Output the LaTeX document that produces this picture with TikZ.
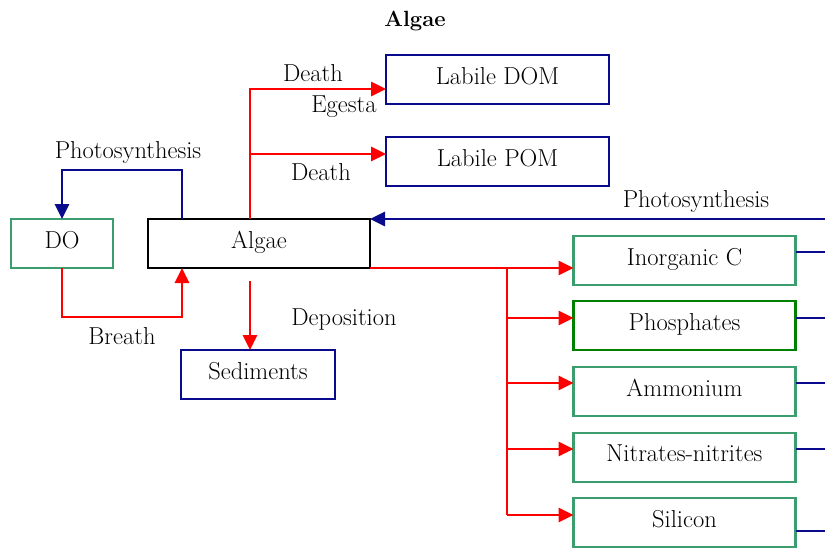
\documentclass[tikz,border=0pt]{standalone}
\usetikzlibrary{arrows.meta,calc}
\definecolor{navyb}{RGB}{10,10,140}
\definecolor{seag}{RGB}{60,158,110}
\definecolor{darkg}{RGB}{0,128,0}
\newcommand{\upt}[1]{\raisebox{8pt}{#1}}
\begin{document}
\begin{tikzpicture}[x=1pt,y=-1pt,
  every node/.style={font=\fontsize{24.5}{28}\selectfont},
  box/.style={draw,line width=2.8pt,minimum height=49pt,inner sep=0pt,outer sep=0pt,anchor=center},
  lbl/.style={inner sep=0pt,anchor=center},
  redl/.style={draw=red,line width=2.8pt},
  bluel/.style={draw=navyb,line width=2.8pt},
  tip/.style={-{Triangle[length=15pt,width=14pt]}}
]
\useasboundingbox (0,0) rectangle (825,551);
% title
\node[lbl,font=\fontsize{22}{26}\selectfont\bfseries] (title) at (415,21) {Algae};
% boxes
\node[box,draw=navyb,minimum width=223pt] (dom) at (497.5,79.5) {\upt{Labile DOM}};
\node[box,draw=navyb,minimum width=223pt] (pom) at (497.5,161.5) {\upt{Labile POM}};
\node[box,draw=seag,minimum width=102pt] (do) at (62,243.5) {\upt{DO}};
\node[box,draw=black,minimum width=222pt] (algae) at (259,243.5) {\upt{Algae}};
\node[box,draw=navyb,minimum width=154pt] (sed) at (258,374.5) {\upt{Sediments}};
\node[box,draw=seag,minimum width=222pt] (inc) at (684.5,260.5) {\upt{Inorganic C}};
\node[box,draw=darkg,minimum width=222pt] (pho) at (684.5,325.5) {\upt{Phosphates}};
\node[box,draw=seag,minimum width=222pt] (amm) at (684.5,391.5) {\upt{Ammonium}};
\node[box,draw=seag,minimum width=222pt] (nit) at (684.5,457.5) {\upt{Nitrates-nitrites}};
\node[box,draw=seag,minimum width=222pt] (sil) at (684.5,522.5) {\upt{Silicon}};
% coordinates
\coordinate (ps) at (182,170);
\coordinate (br) at (62,317);
\coordinate (d1) at (250,89);
\coordinate (d2) at (250,154);
\coordinate (dep) at (250,281);
\coordinate (rv) at (507,268);
\coordinate (rin) at (825,219);
\coordinate (e1) at (825,252);
\coordinate (e2) at (825,318);
\coordinate (e3) at (825,383);
\coordinate (e4) at (825,449);
\coordinate (e5) at (825,531);
% photosynthesis to DO
\draw[bluel,tip] (algae.north -| ps) -- (ps) -| (do.north);
\node[lbl] (lps) at (128,152) {Photosynthesis};
% breath
\draw[redl,tip] (do.south) -- (br) -| (algae.south -| ps);
\node[lbl] (lbr) at (122,336) {Breath};
% death / egesta
\draw[redl,tip] (algae.north -| d1) -- (d1) -- (dom.west |- d1);
\draw[redl,tip] (d2) -- (pom.west |- d2);
\node[lbl] (ld1) at (313,73) {Death};
\node[lbl] (leg) at (344,107) {Egesta};
\node[lbl] (ld2) at (321,172) {Death};
% deposition
\draw[redl,tip] (dep) -- (sed.north -| dep);
\node[lbl] (ldep) at (344,320) {Deposition};
% photosynthesis from right
\draw[bluel,tip] (rin) -- (rin -| algae.east);
\node[lbl] (lps2) at (696,201) {Photosynthesis};
% nutrient branches
\draw[redl] (algae.east |- rv) -- (rv) -- (rv |- 0,515);
\draw[redl,tip] (rv) -- (inc.west |- rv);
\draw[redl,tip] (rv |- 0,318) -- (pho.west |- 0,318);
\draw[redl,tip] (rv |- 0,383) -- (amm.west |- 0,383);
\draw[redl,tip] (rv |- 0,449) -- (nit.west |- 0,449);
\draw[redl,tip] (rv |- 0,515) -- (sil.west |- 0,515);
% outgoing stubs
\draw[bluel] (inc.east |- e1) -- (e1);
\draw[bluel] (pho.east |- e2) -- (e2);
\draw[bluel] (amm.east |- e3) -- (e3);
\draw[bluel] (nit.east |- e4) -- (e4);
\draw[bluel] (sil.east |- e5) -- (e5);
\end{tikzpicture}
\end{document}
